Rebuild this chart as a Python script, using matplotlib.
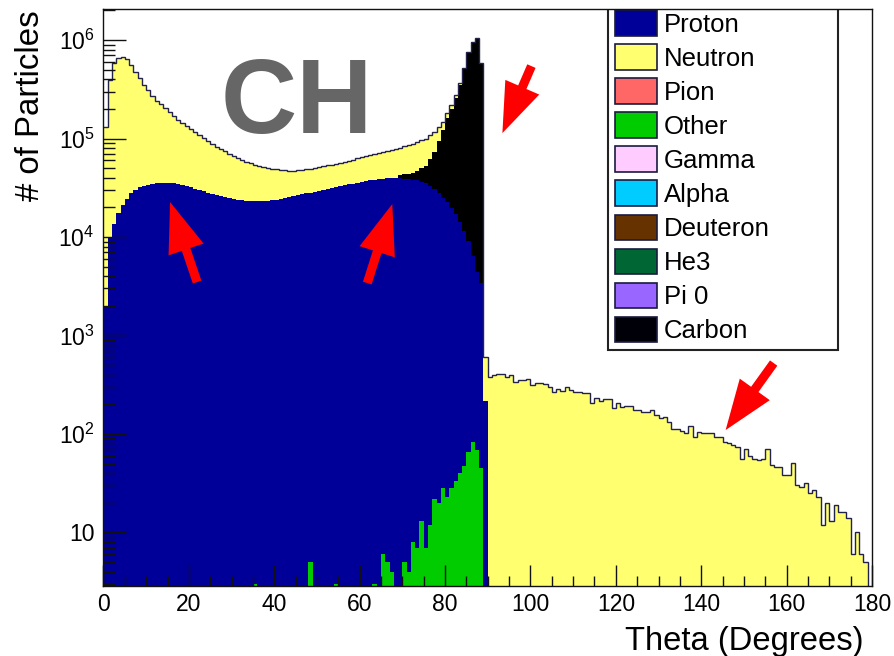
import numpy as np
import matplotlib
matplotlib.use("Agg")
import matplotlib.pyplot as plt
from matplotlib.patches import Patch
from matplotlib.ticker import FixedLocator, MultipleLocator, NullFormatter, LogLocator

plt.rcParams["font.family"] = ["Liberation Sans", "DejaVu Sans"]
plt.rcParams["mathtext.fontset"] = "custom"
plt.rcParams["mathtext.rm"] = "Liberation Sans"
plt.rcParams["mathtext.it"] = "Liberation Sans:italic"
plt.rcParams["mathtext.bf"] = "Liberation Sans:bold"

# ---- data: counts per 1-degree bin of theta, 0..180 ----
bin_edges = np.arange(0, 181)

proton = [
    1950, 9700, 13700, 17400, 21000, 24500, 27800, 30000, 32000, 33000,
    34000, 34800, 35200, 35500, 35500, 35300, 35000, 34500, 33700, 32800,
    32000, 31000, 30000, 29000, 28000, 27200, 26500, 25800, 25200, 24700,
    24300, 24000, 23700, 23400, 23200, 23100, 23100, 23200, 23400, 23700,
    24000, 24400, 24800, 25300, 25800, 26500, 27100, 27700, 28300, 28900,
    29500, 30200, 30900, 31600, 32300, 33000, 33600, 34200, 34900, 35600,
    36300, 37000, 37600, 38100, 38600, 39000, 39300, 39500, 39500, 39400,
    39200, 38800, 38200, 37500, 36500, 35000, 33200, 30500, 28000, 25000,
    22500, 19500, 17000, 14000, 11500, 9000, 6300, 4300, 3400, 217,
] + [0] * 90

neutron = [
    130000, 380000, 566000, 633000, 656000, 612000, 532000, 446000, 378000, 317000,
    276000, 235000, 205000, 186500, 169500, 150000, 133000, 120500, 109300, 100200,
    92000, 85000, 78000, 72000, 67000, 61800, 56500, 52200, 48800, 45300,
    41700, 39000, 36300, 34600, 32800, 30900, 29400, 27800, 26600, 25300,
    24500, 23600, 22700, 21700, 21200, 21000, 20900, 20800, 21200, 21600,
    22000, 22300, 22600, 22900, 23200, 23500, 23900, 24800, 26100, 27400,
    28200, 29000, 29900, 30900, 32400, 34000, 35700, 37500, 39500, 38000,
    40000, 42000, 44000, 45000, 46000, 47000, 46000, 44000, 35000, 25000,
    20000, 17000, 15000, 13000, 12000, 11000, 10000, 9000, 8000, 391,
    381, 396, 403, 403, 381, 396, 339, 352, 352, 361,
    313, 326, 326, 321, 301, 268, 283, 274, 297, 279,
    268, 268, 258, 258, 207, 230, 217, 224, 224, 182,
    204, 186, 192, 192, 175, 175, 168, 168, 175, 155,
    144, 147, 133, 111, 111, 108, 101, 120, 92, 105,
    103, 103, 103, 94, 94, 83, 81, 77, 73, 56,
    71, 60, 56, 54, 56, 71, 48, 46, 46, 38,
    38, 51, 30, 29, 32, 25, 27, 23, 12, 20,
    13, 19, 16, 16, 14, 6, 10, 6, 5, 0,
]

carbon = [0] * 69 + [
    3600, 4300, 5200, 6800, 9500, 13500, 18000, 28800, 42500, 67000,
    98000, 137500, 181500, 244000, 336000, 492500, 740000, 943700, 1026000, 568500,
] + [0] * 91

other = [
    0, 0, 0, 0, 0, 0, 0, 0, 0, 0, 0, 0, 0, 0, 0, 0, 0, 0, 0, 0,
    0, 0, 0, 0, 0, 0, 0, 0, 0, 0, 0, 0, 0, 0, 0, 3, 0, 0, 0, 0,
    0, 0, 0, 0, 0, 0, 0, 0, 5, 0, 0, 0, 0, 0, 3, 0, 0, 0, 0, 0,
    0, 0, 0, 3, 0, 6, 5, 4, 0, 0, 5, 4, 8, 7, 13, 7, 12, 22, 20, 28,
    23, 28, 33, 40, 47, 66, 83, 68, 45, 0,
] + [0] * 90

legend_names = ["Proton", "Neutron", "Pion", "Other", "Gamma",
                "Alpha", "Deuteron", "He3", "Pi 0", "Carbon"]
legend_colors = ["#000099", "#ffff70", "#ff6666", "#00cc00", "#ffccff",
                 "#00ccff", "#663300", "#006633", "#9966ff", "#000008"]

x_ticks = [0, 20, 40, 60, 80, 100, 120, 140, 160, 180]
y_ticks = [10, 1e2, 1e3, 1e4, 1e5, 1e6]
y_tick_labels = ["10", r"$\mathregular{10^{2}}$", r"$\mathregular{10^{3}}$",
                 r"$\mathregular{10^{4}}$", r"$\mathregular{10^{5}}$",
                 r"$\mathregular{10^{6}}$"]

# ---- stacked cumulative contributions (bottom to top) ----
other_a = np.array(other, dtype=float)
stack_proton = other_a + np.array(proton, dtype=float)
stack_carbon = stack_proton + np.array(carbon, dtype=float)
stack_total = stack_carbon + np.array(neutron, dtype=float)

W, H = 895, 656
fig = plt.figure(figsize=(W / 100, H / 100), dpi=100)
ax = fig.add_axes([103.5 / W, 1 - 586 / H, (872 - 103.5) / W, (586 - 9) / H])
ax.set_yscale("log")

base = 1.0
ax.stairs(stack_total, bin_edges, fill=True, baseline=base, color="#ffff70", zorder=1)
ax.stairs(stack_carbon, bin_edges, fill=True, baseline=base, color="#000000", zorder=1.1)
ax.stairs(stack_proton, bin_edges, fill=True, baseline=base, color="#000099", zorder=1.2)
ax.stairs(other_a, bin_edges, fill=True, baseline=base, color="#00cc00", zorder=1.3)
ax.stairs(stack_total, bin_edges, fill=False, baseline=None, color="#22224a",
          linewidth=1.0, zorder=1.4)

ax.set_xlim(0, 180)
ax.set_ylim(2.85, 2.07e6)

ax.xaxis.set_major_locator(FixedLocator(x_ticks))
ax.set_xticklabels([str(t) for t in x_ticks])
ax.xaxis.set_minor_locator(MultipleLocator(5))
ax.yaxis.set_major_locator(FixedLocator(y_ticks))
ax.set_yticklabels(y_tick_labels)
ax.yaxis.set_minor_locator(LogLocator(base=10, subs=np.arange(2, 10)))
ax.yaxis.set_minor_formatter(NullFormatter())

ax.tick_params(axis="both", which="both", direction="in", top=False, right=False,
               width=1.0, color="#111111", labelsize=16.5)
ax.tick_params(axis="x", which="major", length=15, pad=5)
ax.tick_params(axis="x", which="minor", length=7)
ax.tick_params(axis="y", which="major", length=16.5, pad=6.5)
ax.tick_params(axis="y", which="minor", length=8.5)
for s in ax.spines.values():
    s.set_linewidth(1.0)
    s.set_color("#111111")

ax.set_xlabel("Theta (Degrees)", fontsize=23.6, ha="right", va="baseline")
ax.xaxis.set_label_coords((864 - 103.5) / 768.5, -(650 - 586) / 577)
ax.set_ylabel("# of Particles", fontsize=23.8, ha="right", va="baseline",
              rotation=90, rotation_mode="anchor")
ax.yaxis.set_label_coords((39 - 103.5) / 768.5, (586 - 10) / 577)

handles = [Patch(facecolor=c, edgecolor="#1a1a40", linewidth=1.2) for c in legend_colors]
leg = ax.legend(handles, legend_names, loc="upper left",
                bbox_to_anchor=(608 / W, 1 - 353 / H, 230 / W, 350 / H),
                bbox_transform=fig.transFigure, mode="expand", ncol=1,
                fontsize=18.5, frameon=True, fancybox=False, framealpha=1,
                edgecolor="#222222", borderpad=0.29, labelspacing=0.3,
                handlelength=1.63, handleheight=1.13, handletextpad=0.25,
                borderaxespad=0)
leg.get_frame().set_linewidth(1.5)
leg.get_frame().set_clip_on(True)
leg.get_frame().set_clip_box(ax.bbox)
leg.set_zorder(2.4)

# target label
fig.text(297 / W, 1 - 133 / H, "CH", ha="center", va="baseline", fontsize=76,
         fontweight="bold", color="#666666")

# red arrows pointing at features of the distribution
arrow_style = "simple,head_length=36,head_width=26.6,tail_width=6.5"
arrows = [((21.92, 3485), (15.59, 22630)),
          ((61.78, 3405), (67.64, 21600)),
          ((100.23, 544500), (93.43, 113600)),
          ((156.97, 524), (145.72, 109.4))]
for tail, tip in arrows:
    ax.annotate("", xy=tip, xytext=tail, xycoords="data", textcoords="data",
                arrowprops=dict(arrowstyle=arrow_style, mutation_scale=1,
                                color="#ff0000", lw=0, shrinkA=0, shrinkB=0),
                zorder=6)

fig.savefig("out.png", dpi=100)
